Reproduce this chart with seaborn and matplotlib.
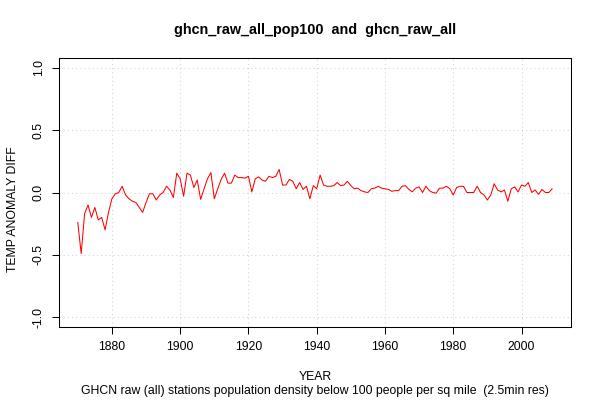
import numpy as np
import pandas as pd
import seaborn as sns
import matplotlib.pyplot as plt

# yearly anomaly difference
years = np.arange(1870, 2010)
temp_diff = [
    -0.24, -0.49, -0.17, -0.10, -0.20, -0.12, -0.22, -0.20, -0.30, -0.16,   # 1870s
    -0.05, -0.01, 0.00, 0.05, -0.02, -0.05, -0.07, -0.08, -0.12, -0.16,     # 1880s
    -0.08, -0.01, -0.01, -0.06, -0.02, 0.00, 0.05, 0.02, -0.04, 0.155,      # 1890s
    0.11, -0.03, 0.155, 0.14, 0.04, 0.10, -0.055, 0.03, 0.11, 0.16,         # 1900s
    -0.05, 0.03, 0.105, 0.155, 0.075, 0.075, 0.14, 0.12, 0.12, 0.115,       # 1910s
    0.13, 0.005, 0.11, 0.125, 0.10, 0.09, 0.13, 0.12, 0.13, 0.185,          # 1920s
    0.06, 0.06, 0.105, 0.09, 0.03, 0.08, 0.025, 0.05, -0.05, 0.055,         # 1930s
    0.03, 0.14, 0.06, 0.05, 0.05, 0.055, 0.08, 0.055, 0.06, 0.09,           # 1940s
    0.055, 0.03, 0.035, 0.015, 0.005, 0.0, 0.03, 0.035, 0.05, 0.035,        # 1950s
    0.03, 0.025, 0.01, 0.015, 0.015, 0.05, 0.055, 0.025, 0.005, 0.035,      # 1960s
    0.045, 0.0, 0.05, 0.015, 0.0, -0.005, 0.035, 0.035, 0.05, 0.03,         # 1970s
    -0.02, 0.04, 0.05, 0.05, 0.0, 0.0, 0.0, 0.05, 0.0, -0.02,               # 1980s
    -0.06, -0.02, 0.07, 0.02, 0.005, 0.02, -0.07, 0.03, 0.045, 0.005,       # 1990s
    0.06, 0.05, 0.08, 0.0, 0.02, -0.015, 0.025, 0.0, 0.0, 0.03,             # 2000s
]
x_ticks = [1880, 1900, 1920, 1940, 1960, 1980, 2000]
y_ticks = [-1.0, -0.5, 0.0, 0.5, 1.0]

df = pd.DataFrame({'YEAR': years, 'DIFF': temp_diff})

sns.set_style('white')
plt.rcParams['font.family'] = ['Liberation Sans', 'DejaVu Sans']
plt.rcParams['text.color'] = 'black'
plt.rcParams['xtick.color'] = 'black'
plt.rcParams['ytick.color'] = 'black'
plt.rcParams['axes.labelcolor'] = 'black'

fig = plt.figure(figsize=(6, 4), dpi=100)
ax = fig.add_axes([0.098, 0.1825, 0.854, 0.6725])

sns.lineplot(data=df, x='YEAR', y='DIFF', color='red', linewidth=0.75, ax=ax)

# R style axis range (4% padding)
span = years[-1] - years[0]
ax.set_xlim(years[0] - 0.04 * span, years[-1] + 0.04 * span)
ax.set_ylim(-1.08, 1.08)

ax.set_xticks(x_ticks)
ax.set_yticks(y_ticks)
ax.set_yticklabels([f'{v:.1f}' for v in y_ticks], rotation=90, va='center')
ax.tick_params(axis='both', direction='out', length=5.2, width=0.75,
               color='black', labelcolor='black', labelsize=8.8, pad=5,
               bottom=True, left=True)
ax.grid(True, color='#D3D3D3', linestyle=(0, (1, 3)), linewidth=0.75)

for s in ax.spines.values():
    s.set_color('black')
    s.set_linewidth(0.75)

ax.set_xlabel('')
ax.set_ylabel('')
fig.text(0.022, 0.4775, 'TEMP ANOMALY DIFF', rotation=90, ha='center', va='center', fontsize=8.8)
fig.text(0.525, 0.057, 'YEAR', ha='center', va='center', fontsize=8.8)
fig.text(0.525, 0.022, 'GHCN raw (all) stations population density below 100 people per sq mile  (2.5min res)',
         ha='center', va='center', fontsize=8.8)
fig.text(0.525, 0.925, 'ghcn_raw_all_pop100  and  ghcn_raw_all', ha='center', va='center',
         fontsize=10.4, fontweight='bold')

fig.savefig('out.png', dpi=100)
